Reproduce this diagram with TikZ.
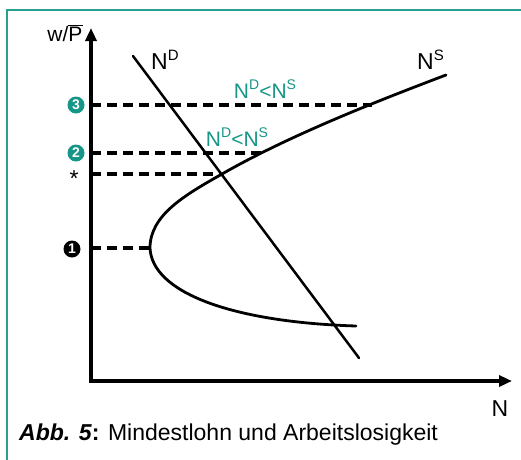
\documentclass[tikz,border=0pt]{standalone}
\usepackage{fontspec}
\setmainfont{Liberation Sans}
\usetikzlibrary{arrows.meta}
\definecolor{teal1}{RGB}{22,150,135}
\definecolor{frame1}{RGB}{40,160,145}
\newcommand{\supA}[1]{\raisebox{0.75ex}{\fontsize{15}{15}\selectfont #1}}
\newcommand{\supB}[1]{\raisebox{0.75ex}{\fontsize{14}{14}\selectfont #1}}
\tikzset{
  axis/.style={line width=3.5pt,-{Triangle[length=13pt,width=11pt]}},
  dashline/.style={line width=3.5pt,dash pattern=on 10pt off 6pt},
  curve/.style={line width=2.8pt,line cap=round},
  lbl/.style={font=\fontsize{23}{23}\selectfont,inner sep=0pt},
  tlbl/.style={font=\fontsize{21}{21}\selectfont,inner sep=0pt,text=teal1},
  marker/.style={circle,inner sep=0pt,minimum size=17pt,font=\bfseries\fontsize{14}{14}\selectfont,text=white},
}
\begin{document}
\begin{tikzpicture}[x=1pt,y=-1pt]
\useasboundingbox (0,0) rectangle (521,459);
\begin{scope}
\clip (0,0) rectangle (521,459);
\draw[frame1,line width=1.8pt] (7,10) rectangle (540,480);
\end{scope}
% axes
\coordinate (ytop) at (91,28);
\coordinate (xend) at (512,381);
\draw[axis] (91,383) -- (ytop);
\draw[axis] (89,381) -- (xend);
\node[lbl,font=\fontsize{21}{21}\selectfont] (wp) at (65,33) {w/$\overline{\mbox{P}}$};
\node[lbl] (nx) at (500,409) {N};
% dashed lines
\coordinate (d3a) at (91,105); \coordinate (d3b) at (372,105);
\coordinate (d2a) at (91,153); \coordinate (d2b) at (261,153);
\coordinate (dsa) at (91,174); \coordinate (dsb) at (221,174);
\coordinate (d1a) at (91,248); \coordinate (d1b) at (150,248);
\draw[dashline] (d3a) -- (d3b);
\draw[dashline] (d2a) -- (d2b);
\draw[dashline] (dsa) -- (dsb);
\draw[dashline] (d1a) -- (d1b);
% markers
\node[marker,fill=teal1] (m3) at (76,105) {3};
\node[marker,fill=teal1] (m2) at (76,153) {2};
\node[lbl] (ms) at (74,179) {*};
\node[marker,fill=black] (m1) at (72,249) {1};
% N^D
\coordinate (nd1) at (133,56);
\coordinate (nd2) at (359,358);
\draw[curve,line width=2.5pt] (nd1) -- (nd2);
\node[lbl,anchor=west] (ndl) at (151,60) {N\supA{D}};
% N^S
\coordinate (v) at (150,248);
\coordinate (x1) at (222,174);
\coordinate (ns1) at (446,75);
\coordinate (ns2) at (356,326);
\draw[curve] (ns1) .. controls (380,100) and (290,135) .. (x1)
  .. controls (185,195) and (150,215) .. (v)
  .. controls (152,292) and (230,322) .. (ns2);
\node[lbl,anchor=west] (nsl) at (417,60) {N\supA{S}};
% teal labels
\node[tlbl] (t1) at (265,89) {N\supB{D}<N\supB{S}};
\node[tlbl] (t2) at (237,137) {N\supB{D}<N\supB{S}};
% caption
\node[lbl,anchor=base west] (cap) at (19,440) {\textbf{\textit{Abb. 5}:} Mindestlohn und Arbeitslosigkeit};
\end{tikzpicture}
\end{document}
